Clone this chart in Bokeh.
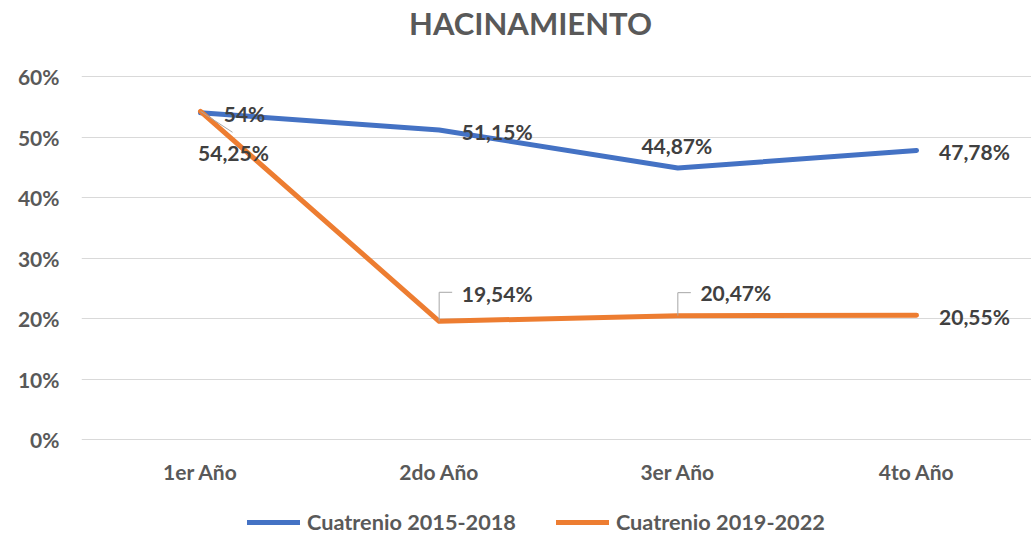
from bokeh.plotting import figure
from bokeh.models import Range1d, FixedTicker, Legend, LegendItem, Label, ColumnDataSource
from bokeh.core.properties import value
from bokeh.embed import file_html
from bokeh.resources import INLINE

# ---------------- data ----------------
chart_title = "HACINAMIENTO"
categories = ["1er Año", "2do Año", "3er Año", "4to Año"]
series_names = ["Cuatrenio 2015-2018", "Cuatrenio 2019-2022"]
serie_2015_2018 = [0.54, 0.5115, 0.4487, 0.4778]
serie_2019_2022 = [0.5425, 0.1954, 0.2047, 0.2055]
labels_2015_2018 = ["54%", "51,15%", "44,87%", "47,78%"]
labels_2019_2022 = ["54,25%", "19,54%", "20,47%", "20,55%"]
y_ticks = [0.0, 0.1, 0.2, 0.3, 0.4, 0.5, 0.6]
y_tick_labels = ["0%", "10%", "20%", "30%", "40%", "50%", "60%"]

# ---------------- styling / layout ----------------
FONT = "Lato"
BLUE = "#4472C4"
ORANGE = "#ED7D31"
GRID = "#D9D9D9"
AXIS_TXT = "#595959"
LBL_TXT = "#404040"
LEADER = "#A6A6A6"

W, H = 1031, 536
MB_L = 81
CX0, CX_STEP = 200, 238.67          # first category centre, spacing (px)
PY0, PY60 = 439, 76                 # pixel rows of 0 % and 60 %
PX_X = CX_STEP
PX_Y = (PY0 - PY60) / 0.6
X0 = -(CX0 - MB_L) / PX_X
X1 = (W - CX0) / PX_X
Y0 = -(H - PY0) / PX_Y
Y1 = PY0 / PX_Y

xs = list(range(len(categories)))

p = figure(width=W, height=H, output_backend="svg", toolbar_location=None,
           x_range=Range1d(X0, X1), y_range=Range1d(Y0, Y1),
           min_border_left=MB_L, min_border_right=0,
           min_border_top=0, min_border_bottom=0)
p.outline_line_color = None
p.background_fill_color = "white"
p.border_fill_color = "white"
p.xgrid.visible = False
p.xaxis.visible = False
p.ygrid.grid_line_color = GRID
p.ygrid.grid_line_width = 1
p.ygrid.ticker = FixedTicker(ticks=y_ticks)

p.yaxis.ticker = FixedTicker(ticks=y_ticks)
p.yaxis.major_label_overrides = {t: l for t, l in zip(y_ticks, y_tick_labels)}
p.yaxis.axis_line_color = None
p.yaxis.major_tick_line_color = None
p.yaxis.minor_tick_line_color = None
p.yaxis.major_tick_out = 0
p.yaxis.major_tick_in = 0
p.yaxis.major_label_text_font = FONT
p.yaxis.major_label_text_font_style = "bold"
p.yaxis.major_label_text_font_size = "21px"
p.yaxis.major_label_text_color = AXIS_TXT
p.yaxis.major_label_standoff = 22

# category labels under the 0 % line
p.text(x=xs, y=[0] * len(xs), text=categories, y_offset=32,
       text_font=value(FONT), text_font_style="bold", text_font_size="21px",
       text_color=AXIS_TXT, text_align="center", text_baseline="middle")

# lines
r_blue = p.line(xs, serie_2015_2018, line_color=BLUE, line_width=5,
                line_cap="round", line_join="round")
r_orange = p.line(xs, serie_2019_2022, line_color=ORANGE, line_width=5,
                  line_cap="round", line_join="round")

# leader lines (pixel offsets from the point, converted to data units)
leaders = {0: [(0, 0), (32, 21)], 1: [(0, 0), (0, -29), (13, -29)], 2: [(0, 0), (0, -23), (13, -23)]}
lx, ly = [], []
for i, pts in leaders.items():
    lx.append([xs[i] + dx / PX_X for dx, dy in pts])
    ly.append([serie_2019_2022[i] - dy / PX_Y for dx, dy in pts])
p.multi_line(lx, ly, line_color=LEADER, line_width=1)

# data labels
blue_off = [(44, 1), (58, 1), (-1, -23), (58, 1)]
orange_off = [(33, 41), (58, -28), (58, -23), (58, 1)]
src = ColumnDataSource(dict(
    x=xs + xs,
    y=serie_2015_2018 + serie_2019_2022,
    t=labels_2015_2018 + labels_2019_2022,
    dx=[o[0] for o in blue_off + orange_off],
    dy=[o[1] for o in blue_off + orange_off],
))
p.text(x="x", y="y", text="t", x_offset="dx", y_offset="dy", source=src,
       text_font=value(FONT), text_font_style="bold", text_font_size="21px",
       text_color=LBL_TXT, text_align="center", text_baseline="middle")

# title (upper empty band of the frame)
title_x = (530 - CX0) / PX_X
title_y = (PY0 - 22.5) / PX_Y
p.add_layout(Label(x=title_x, y=title_y, text=chart_title, text_font=FONT,
                   text_font_style="bold", text_font_size="31px", text_color=AXIS_TXT,
                   text_align="center", text_baseline="middle"))

# legend (lower empty band of the frame)
legend = Legend(items=[LegendItem(label=series_names[0], renderers=[r_blue]),
                       LegendItem(label=series_names[1], renderers=[r_orange])],
                orientation="horizontal", location=(247 - MB_L, 1),
                glyph_width=53, glyph_height=20, label_height=20, label_standoff=7,
                spacing=40, padding=0, margin=0, border_line_color=None,
                background_fill_alpha=0,
                label_text_font=FONT, label_text_font_style="bold",
                label_text_font_size="21.7px", label_text_color=AXIS_TXT)
p.add_layout(legend)

open("out.html", "w").write(file_html(p, INLINE))
